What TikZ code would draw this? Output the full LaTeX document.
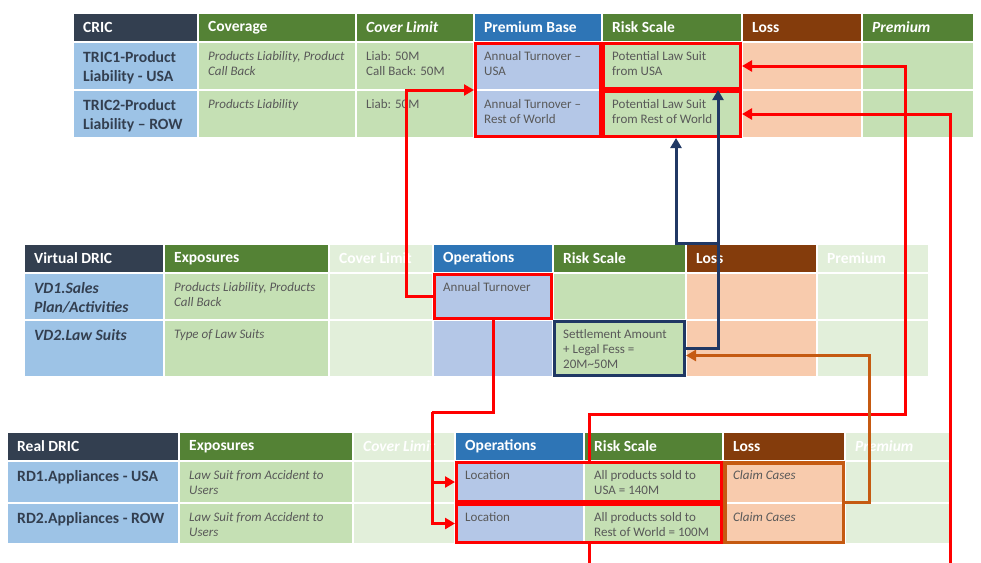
\documentclass[tikz,border=0pt]{standalone}
\usepackage{fontspec}
\setmainfont{Carlito}
\usepackage{tikz}
\usetikzlibrary{positioning,arrows.meta,fit}

\definecolor{hdark}{RGB}{51,63,80}
\definecolor{hgreen}{RGB}{84,130,53}
\definecolor{hblue}{RGB}{46,117,182}
\definecolor{hbrown}{RGB}{132,60,12}
\definecolor{lblue}{RGB}{157,195,230}
\definecolor{lgreen}{RGB}{197,224,180}
\definecolor{lops}{RGB}{180,199,231}
\definecolor{lloss}{RGB}{248,203,173}
\definecolor{pale}{RGB}{226,239,218}
\definecolor{txtgray}{RGB}{89,89,89}
\definecolor{navyc}{RGB}{32,56,100}
\definecolor{orangec}{RGB}{197,90,17}

\tikzset{
  cellbox/.style={draw=white,line width=2pt,outer sep=0pt,inner sep=0pt},
  hdtext/.style={anchor=west,inner xsep=10pt,font=\fontsize{15.5}{18}\selectfont\bfseries,text=white},
  bodytext/.style={anchor=north west,align=left,inner xsep=10pt,inner ysep=9pt},
  namecol/.style={font=\fontsize{15.7}{19}\selectfont\bfseries,text=hdark},
  nameit/.style={font=\fontsize{15.7}{19}\selectfont\bfseries\itshape,text=hdark},
  ittxt/.style={font=\fontsize{13}{15}\selectfont\itshape,text=txtgray},
  rgtxt/.style={font=\fontsize{13}{15}\selectfont,text=txtgray},
  redbox/.style={draw=red,line width=3pt,inner sep=-1.5pt},
  navybox/.style={draw=navyc,line width=3pt,inner sep=-1.5pt},
  orangebox/.style={draw=orangec,line width=3.5pt,inner sep=-1.75pt},
  redarrow/.style={draw=red,line width=3pt,-{Triangle[length=10pt,width=11pt]}},
  redline/.style={draw=red,line width=3pt},
  navyarrow/.style={draw=navyc,line width=3pt,-{Triangle[length=10pt,width=11pt]}},
  orangearrow/.style={draw=orangec,line width=3pt,-{Triangle[length=10pt,width=11pt]}}
}

\begin{document}
\begin{tikzpicture}[x=1pt,y=-1pt]
\useasboundingbox (0,0) rectangle (981,562);
\clip (0,0) rectangle (981,562);

% ================= Table (a): CRIC =================
\foreach \n/\xa/\xb/\f/\t in {c1-h1/73/198/hdark/CRIC, c1-h2/198/356/hgreen/Coverage,
    c1-h3/356/474/hgreen/{\itshape Cover Limit}, c1-h4/474/602/hblue/Premium Base,
    c1-h5/602/742/hgreen/Risk Scale, c1-h6/742/862/hbrown/Loss, c1-h7/862/974/hgreen/{\itshape Premium}}{
  \node[cellbox,fill=\f,minimum width={\xb-\xa},minimum height=29] (\n) at ({(\xa+\xb)/2},27.5) {};
  \node[hdtext] (\n-t) at (\n.west) {\t};
}
\foreach \n/\xa/\xb/\ya/\yb/\f/\s/\t in {
    c1-nm1/73/198/42/90/lblue/namecol/{TRIC1-Product\\Liability - USA},
    c1-cv1/198/356/42/90/lgreen/ittxt/{Products Liability, Product\\Call Back},
    c1-cl1/356/474/42/90/lgreen/rgtxt/{Liab: 50M\\Call Back: 50M},
    c1-pb1/474/602/42/90/lops/rgtxt/{Annual Turnover –\\USA},
    c1-rs1/602/742/42/90/lgreen/rgtxt/{Potential Law Suit\\from USA},
    c1-ls1/742/862/42/90/lloss/rgtxt/{},
    c1-pr1/862/974/42/90/lgreen/rgtxt/{},
    c1-nm2/73/198/90/138/lblue/namecol/{TRIC2-Product\\Liability – ROW},
    c1-cv2/198/356/90/138/lgreen/ittxt/{Products Liability},
    c1-cl2/356/474/90/138/lgreen/rgtxt/{Liab: 50M},
    c1-pb2/474/602/90/138/lops/rgtxt/{Annual Turnover –\\Rest of World},
    c1-rs2/602/742/90/138/lgreen/rgtxt/{Potential Law Suit\\from Rest of World},
    c1-ls2/742/862/90/138/lloss/rgtxt/{},
    c1-pr2/862/974/90/138/lgreen/rgtxt/{}}{
  \node[cellbox,fill=\f,minimum width={\xb-\xa},minimum height={\yb-\ya}] (\n) at ({(\xa+\xb)/2},{(\ya+\yb)/2}) {};
  \node[bodytext,\s] (\n-t) at (\n.north west) {\t};
}

% ================= Table (b): Virtual DRIC =================
\foreach \n/\xa/\xb/\f/\t in {c2-h1/24/164/hdark/Virtual DRIC, c2-h2/164/329/hgreen/Exposures,
    c2-h3/329/433/pale/Cover Limit, c2-h4/433/553/hblue/Operations,
    c2-h5/553/686/hgreen/Risk Scale, c2-h6/686/817/hbrown/Loss, c2-h7/817/929/pale/Premium}{
  \node[cellbox,fill=\f,minimum width={\xb-\xa},minimum height=29] (\n) at ({(\xa+\xb)/2},258.5) {};
  \node[hdtext] (\n-t) at (\n.west) {\t};
}
\foreach \n/\xa/\xb/\ya/\yb/\f/\s/\t in {
    c2-nm1/24/164/273/320/lblue/nameit/{VD1.Sales\\Plan/Activities},
    c2-ex1/164/329/273/320/lgreen/ittxt/{Products Liability, Products\\Call Back},
    c2-cl1/329/433/273/320/pale/rgtxt/{},
    c2-op1/433/553/273/320/lops/rgtxt/{Annual Turnover},
    c2-rs1/553/686/273/320/lgreen/rgtxt/{},
    c2-ls1/686/817/273/320/lloss/rgtxt/{},
    c2-pr1/817/929/273/320/pale/rgtxt/{},
    c2-nm2/24/164/320/377/lblue/nameit/{VD2.Law Suits},
    c2-ex2/164/329/320/377/lgreen/ittxt/{Type of Law Suits},
    c2-cl2/329/433/320/377/pale/rgtxt/{},
    c2-op2/433/553/320/377/lops/rgtxt/{},
    c2-rs2/553/686/320/377/lgreen/rgtxt/{Settlement Amount\\+ Legal Fess =\\20M\textasciitilde50M},
    c2-ls2/686/817/320/377/lloss/rgtxt/{},
    c2-pr2/817/929/320/377/pale/rgtxt/{}}{
  \node[cellbox,fill=\f,minimum width={\xb-\xa},minimum height={\yb-\ya}] (\n) at ({(\xa+\xb)/2},{(\ya+\yb)/2}) {};
  \node[bodytext,\s] (\n-t) at (\n.north west) {\t};
}

% ================= Table (c): Real DRIC =================
\foreach \n/\xa/\xb/\f/\t in {c3-h1/7/179/hdark/Real DRIC, c3-h2/179/353/hgreen/Exposures,
    c3-h3/353/455/pale/{\itshape Cover Limit}, c3-h4/455/584/hblue/Operations,
    c3-h5/584/723/hgreen/Risk Scale, c3-h6/723/845/hbrown/Loss, c3-h7/845/952/pale/{\itshape Premium}}{
  \node[cellbox,fill=\f,minimum width={\xb-\xa},minimum height=29] (\n) at ({(\xa+\xb)/2},446.5) {};
  \node[hdtext] (\n-t) at (\n.west) {\t};
}
\foreach \n/\xa/\xb/\ya/\yb/\f/\s/\t in {
    c3-nm1/7/179/461/503/lblue/namecol/{RD1.Appliances - USA},
    c3-ex1/179/353/461/503/lgreen/ittxt/{Law Suit from Accident to\\Users},
    c3-cl1/353/455/461/503/pale/rgtxt/{},
    c3-op1/455/584/461/503/lops/rgtxt/{Location},
    c3-rs1/584/723/461/503/lgreen/rgtxt/{All products sold to\\USA = 140M},
    c3-ls1/723/845/461/503/lloss/ittxt/{Claim Cases},
    c3-pr1/845/952/461/503/pale/rgtxt/{},
    c3-nm2/7/179/503/544/lblue/namecol/{RD2.Appliances - ROW},
    c3-ex2/179/353/503/544/lgreen/ittxt/{Law Suit from Accident to\\Users},
    c3-cl2/353/455/503/544/pale/rgtxt/{},
    c3-op2/455/584/503/544/lops/rgtxt/{Location},
    c3-rs2/584/723/503/544/lgreen/rgtxt/{All products sold to\\Rest of World = 100M},
    c3-ls2/723/845/503/544/lloss/ittxt/{Claim Cases},
    c3-pr2/845/952/503/544/pale/rgtxt/{}}{
  \node[cellbox,fill=\f,minimum width={\xb-\xa},minimum height={\yb-\ya}] (\n) at ({(\xa+\xb)/2},{(\ya+\yb)/2}) {};
  \node[bodytext,\s] (\n-t) at (\n.north west) {\t};
}

% ================= Highlight boxes =================
\node[redbox,fit=(c1-pb1)(c1-pb2)] (pbbox) {};
\node[redbox,fit=(c1-rs1)] (riskusa) {};
\node[redbox,fit=(c1-rs2)] (riskrow) {};
\node[redbox,fit=(c2-op1)] (vdturn) {};
\node[navybox,fit=(c2-rs2)] (settle) {};
\node[redbox,fit=(c3-op1)(c3-rs1)] (rd1box) {};
\node[redbox,fit=(c3-op2)(c3-rs2)] (rd2box) {};
\node[orangebox,fit=(c3-ls1)(c3-ls2)] (lossbox) {};

% ================= Connectors =================
\draw[redarrow] (vdturn.west) -- ++(-27,0) |- (pbbox.west);
\coordinate (split) at (432,412);
\draw[redline] (vdturn.south) |- (split);
\draw[redarrow] (split) |- (rd1box.west);
\draw[redarrow] (split) |- (rd2box.west);
\coordinate (k1) at (905,414);
\draw[redarrow] (rd1box.north) |- (k1) |- (riskusa.east);
\coordinate (k2) at (950,575);
\draw[redarrow] (rd2box.south) |- (k2) |- (riskrow.east);
\draw[navyarrow] (settle.east) -| ([xshift=46pt]riskusa.south);
\coordinate (n1) at (718,243);
\draw[navyarrow] (n1) -| ([xshift=4pt]riskrow.south);
\draw[orangearrow] (lossbox.east) -- ++(24,0) |- ([yshift=-7pt]settle.east);
\end{tikzpicture}
\end{document}
